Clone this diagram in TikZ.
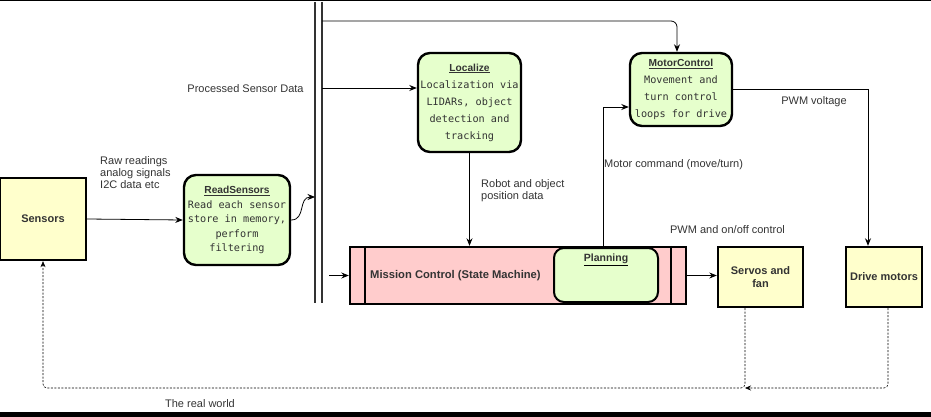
\documentclass[tikz,border=0pt]{standalone}
\usepackage{fontspec}
\setmainfont{Liberation Sans}
\setmonofont{DejaVu Sans Mono}
\usetikzlibrary{arrows.meta}
\definecolor{boxyellow}{HTML}{FFFFCC}
\definecolor{boxgreen}{HTML}{E6FFCC}
\definecolor{boxpink}{HTML}{FFCCCC}
\definecolor{labelgray}{HTML}{333333}
\tikzset{
  hwbox/.style={draw, line width=2.4pt, fill=boxyellow, align=center, inner sep=0pt,
    font=\fontsize{11}{13}\selectfont\bfseries, text=labelgray},
  taskbox/.style={draw, line width=2.4pt, fill=boxgreen, rounded corners=12pt, align=center,
    inner sep=1pt, font=\fontsize{10.2}{17}\selectfont\ttfamily, text=labelgray},
  flowlabel/.style={font=\fontsize{11}{12}\selectfont, text=labelgray, inner sep=0pt, align=left},
  arr/.style={-{Stealth[length=7.5pt,width=6pt]}, line width=0.8pt},
  worldline/.style={dash pattern=on 2pt off 1.5pt, line width=0.6pt, rounded corners=4pt}
}
\newcommand{\tasktitle}[1]{\underline{\textcolor{labelgray}{\textrm{\bfseries #1}}}}
\begin{document}
\begin{tikzpicture}[x=1pt,y=-1pt]
\useasboundingbox (0,0) rectangle (931,417);
\fill (0,0) rectangle (931,1.5);
\fill (0,412) rectangle (931,417);

% hardware
\node[hwbox, minimum width=86pt, minimum height=82pt] (sen) at (43,219) {Sensors};
\node[hwbox, minimum width=85pt, minimum height=60pt] (srv) at (760.5,277) {Servos and\\fan};
\node[hwbox, minimum width=76pt, minimum height=60pt] (drv) at (884,277) {Drive motors};

% tasks
\node[taskbox, minimum width=106pt, minimum height=90pt, font=\fontsize{10.2}{14.5}\selectfont\ttfamily] (rs) at (237,220)
  {\tasktitle{ReadSensors}\\Read each sensor\\store in memory,\\perform\\filtering};
\node[taskbox, minimum width=103pt, minimum height=99pt] (loc) at (469.5,102.5)
  {\tasktitle{Localize}\\Localization via\\LIDARs, object\\detection and\\tracking};
\node[taskbox, minimum width=102pt, minimum height=73pt] (mc) at (681,89.5)
  {\tasktitle{MotorControl}\\Movement and\\turn control\\loops for drive};

% mission control
\node[draw, line width=2.4pt, fill=boxpink, minimum width=336pt, minimum height=57pt] (mis) at (518,275.5) {};
\draw[line width=2pt] ([xshift=16pt]mis.north west) -- ([xshift=16pt]mis.south west);
\draw[line width=2pt] ([xshift=-16pt]mis.north east) -- ([xshift=-16pt]mis.south east);
\node[draw, line width=2pt, fill=boxgreen, rounded corners=10pt, minimum width=104pt, minimum height=54pt] (plan) at (606,275) {};
\node[font=\fontsize{10.5}{13}\selectfont, anchor=north, inner sep=0pt] (plantitle) at ([yshift=-7pt]plan.north) {\tasktitle{Planning}};
\node[anchor=west, inner sep=0pt, font=\fontsize{11.2}{13}\selectfont\bfseries, text=labelgray] (mistext) at (370,276) {Mission Control (State Machine)};

% bus
\draw[line width=1.3pt, labelgray] (315,2) -- (315,303);
\draw[line width=1.3pt, labelgray] (322,2) -- (322,303);
\coordinate (busin) at (315,197);
\coordinate (bustop) at (322,21);
\coordinate (busproc) at (322,88);
\coordinate (busmis) at (329,275.5);

% connectors
\draw[arr] (sen.east) -- (rs.west);
\draw[arr] (rs.east) .. controls (306,220) and (298,197) .. (busin);
\draw[arr, rounded corners=6pt] (bustop) -| ([xshift=-4pt]mc.north);
\draw[arr] (busproc) -- (busproc -| loc.west);
\draw[arr] (loc.south) -- (loc.south |- mis.north);
\draw[arr] ([xshift=-3pt]plan.north) |- ([yshift=-17.5pt]mc.west);
\draw[arr] (mc.east) -| ([xshift=-16pt]drv.north);
\draw[arr] (busmis) -- (busmis -| mis.west);
\draw[arr] (mis.east) -- (mis.east -| srv.west);
\coordinate (worldjoin) at (745,388);
\draw[worldline, -{Stealth[length=6pt,width=5pt]}] ([xshift=4pt]drv.south) |- (worldjoin);
\draw[worldline, -{Stealth[length=6pt,width=5pt]}] ([xshift=-15.5pt]srv.south) -- (worldjoin) -| (sen.south);

% labels
\node[flowlabel, anchor=west] (rawlbl) at (100,173) {Raw readings\\analog signals\\I2C data etc};
\node[flowlabel] (proclbl) at (245.5,89) {Processed Sensor Data};
\node[flowlabel, anchor=west] (poslbl) at (481,191) {Robot and object\\position data};
\node[flowlabel, anchor=west] (cmdlbl) at (604,165) {Motor command (move/turn)};
\node[flowlabel] (pwmlbl) at (814,102) {PWM voltage};
\node[flowlabel] (ctrllbl) at (727.5,230) {PWM and on/off control};
\node[flowlabel] (worldlbl) at (200,404) {The real world};
\end{tikzpicture}
\end{document}
